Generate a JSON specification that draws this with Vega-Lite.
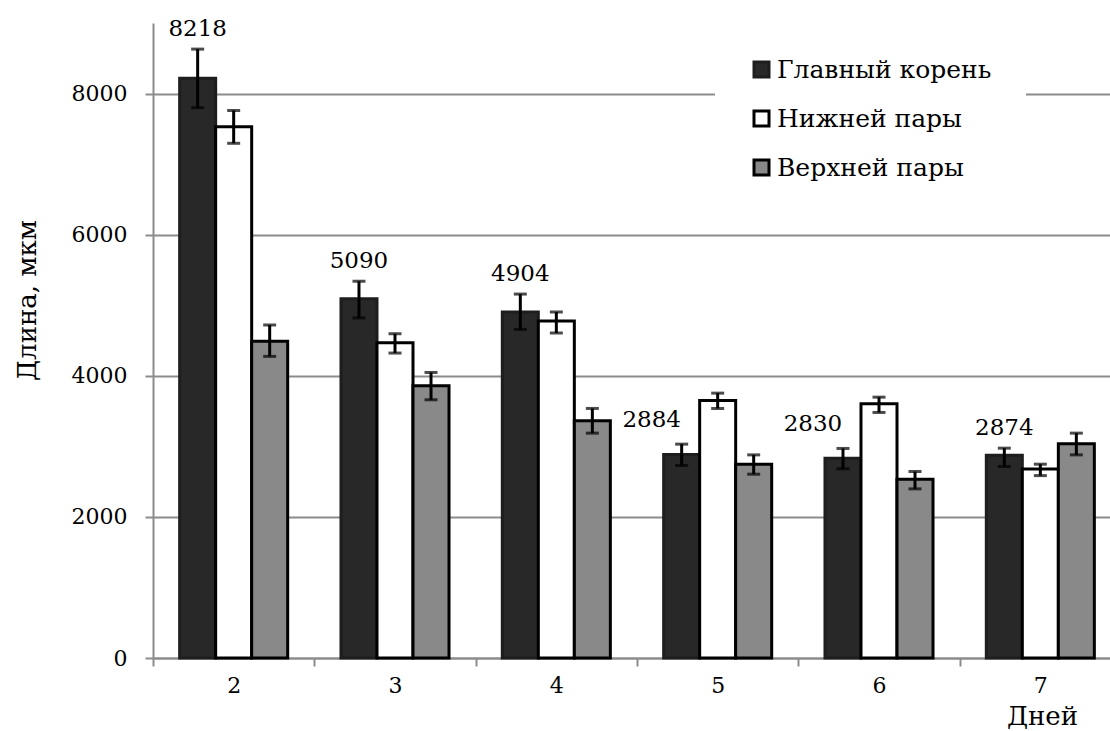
{
  "$schema": "https://vega.github.io/schema/vega-lite/v6.json",
  "width": 957,
  "height": 635,
  "autosize": {"type": "none"},
  "padding": {"left": 153, "top": 23, "right": 0, "bottom": 73},
  "background": "white",
  "config": {
    "view": {"stroke": null},
    "font": "DejaVu Serif",
    "axis": {"labelFont": "DejaVu Serif", "titleFont": "DejaVu Serif", "labelColor": "black", "titleColor": "black", "titleFontWeight": "normal"},
    "legend": {"labelFont": "DejaVu Serif", "labelColor": "black"}
  },
  "data": {
    "values": [
      {"day": "2", "series": "Главный корень", "value": 8218, "lo": 7800, "hi": 8630},
      {"day": "2", "series": "Нижней пары", "value": 7530, "lo": 7295, "hi": 7760},
      {"day": "2", "series": "Верхней пары", "value": 4490, "lo": 4275, "hi": 4720},
      {"day": "3", "series": "Главный корень", "value": 5090, "lo": 4820, "hi": 5340},
      {"day": "3", "series": "Нижней пары", "value": 4468, "lo": 4322, "hi": 4596},
      {"day": "3", "series": "Верхней пары", "value": 3858, "lo": 3660, "hi": 4047},
      {"day": "4", "series": "Главный корень", "value": 4904, "lo": 4657, "hi": 5158},
      {"day": "4", "series": "Нижней пары", "value": 4776, "lo": 4606, "hi": 4904},
      {"day": "4", "series": "Верхней пары", "value": 3362, "lo": 3187, "hi": 3537},
      {"day": "5", "series": "Главный корень", "value": 2884, "lo": 2728, "hi": 3031},
      {"day": "5", "series": "Нижней пары", "value": 3650, "lo": 3536, "hi": 3754},
      {"day": "5", "series": "Верхней пары", "value": 2747, "lo": 2605, "hi": 2879},
      {"day": "6", "series": "Главный корень", "value": 2830, "lo": 2681, "hi": 2970},
      {"day": "6", "series": "Нижней пары", "value": 3603, "lo": 3480, "hi": 3697},
      {"day": "6", "series": "Верхней пары", "value": 2534, "lo": 2397, "hi": 2643},
      {"day": "7", "series": "Главный корень", "value": 2874, "lo": 2714, "hi": 2974},
      {"day": "7", "series": "Нижней пары", "value": 2677, "lo": 2585, "hi": 2747},
      {"day": "7", "series": "Верхней пары", "value": 3035, "lo": 2879, "hi": 3187}
    ]
  },
  "encoding": {
    "x": {
      "field": "day", "type": "ordinal",
      "scale": {"paddingInner": 0, "paddingOuter": 0, "range": [0, 968]},
      "axis": {
        "title": "Дней", "titleFontSize": 26, "titleX": 889, "titleY": 66,
        "titleAlign": "center", "titleBaseline": "alphabetic", "titleAnchor": null,
        "labelAngle": 0, "labelFontSize": 22, "labelPadding": 9,
        "tickBand": "extent", "tickSize": 8, "tickColor": "#8c8c8c", "tickWidth": 2,
        "domainColor": "#8c8c8c", "domainWidth": 2, "grid": false
      }
    },
    "xOffset": {"field": "series", "type": "nominal", "sort": ["Главный корень", "Нижней пары", "Верхней пары"], "scale": {"domain": ["Главный корень", "Нижней пары", "Верхней пары"], "paddingInner": 0, "paddingOuter": 0.74}}
  },
  "layer": [
    {
      "mark": {"type": "bar", "strokeWidth": 3},
      "encoding": {
        "y": {
          "field": "value", "type": "quantitative",
          "scale": {"domain": [0, 9000], "nice": false},
          "axis": {
            "title": "Длина, мкм", "titleFontSize": 26, "titleX": -126, "titleY": 277,
            "titleAngle": -90, "titleAlign": "center", "titleBaseline": "middle", "titleAnchor": null,
            "values": [0, 2000, 4000, 6000, 8000], "format": "d", "labelFontSize": 22, "labelPadding": 18,
            "tickSize": 8, "tickColor": "#8c8c8c", "tickWidth": 2,
            "domainColor": "#8c8c8c", "domainWidth": 2,
            "grid": true, "gridColor": "#8c8c8c", "gridWidth": 2
          }
        },
        "fill": {
          "field": "series", "type": "nominal",
          "scale": {"domain": ["Главный корень", "Нижней пары", "Верхней пары"], "range": ["#282828", "#ffffff", "#898989"]},
          "legend": {
            "title": null, "orient": "none", "legendX": 562, "legendY": 0, "padding": 34,
            "fillColor": "white", "strokeColor": null, "symbolType": "square", "symbolSize": 225,
            "symbolStrokeWidth": 3, "labelFontSize": 25, "labelOffset": 3, "rowPadding": 22, "labelLimit": 400
          }
        },
        "stroke": {
          "field": "series", "type": "nominal",
          "scale": {"domain": ["Главный корень", "Нижней пары", "Верхней пары"], "range": ["#1e1e1e", "#000000", "#000000"]},
          "legend": {
            "title": null, "orient": "none", "legendX": 562, "legendY": 0, "padding": 34,
            "fillColor": "white", "strokeColor": null, "symbolType": "square", "symbolSize": 225,
            "symbolStrokeWidth": 3, "labelFontSize": 25, "labelOffset": 3, "rowPadding": 22, "labelLimit": 400
          }
        }
      }
    },
    {
      "mark": {"type": "rule", "color": "black", "strokeWidth": 3},
      "encoding": {
        "y": {"field": "lo", "type": "quantitative"},
        "y2": {"field": "hi"}
      }
    },
    {
      "mark": {"type": "tick", "color": "black", "thickness": 3, "size": 13, "orient": "horizontal"},
      "encoding": {"y": {"field": "lo", "type": "quantitative"}}
    },
    {
      "mark": {"type": "tick", "color": "black", "thickness": 3, "size": 13, "orient": "horizontal"},
      "encoding": {"y": {"field": "hi", "type": "quantitative"}}
    },
    {
      "transform": [{"filter": "datum.series === 'Главный корень' && datum.day !== '5' && datum.day !== '6'"}],
      "mark": {"type": "text", "font": "DejaVu Serif", "fontSize": 23, "baseline": "alphabetic", "align": "center", "dy": -13, "color": "black"},
      "encoding": {
        "y": {"field": "hi", "type": "quantitative"},
        "text": {"field": "value", "type": "quantitative", "format": "d"}
      }
    },
    {
      "transform": [{"filter": "datum.series === 'Главный корень' && (datum.day === '5' || datum.day === '6')"}],
      "mark": {"type": "text", "font": "DejaVu Serif", "fontSize": 23, "baseline": "alphabetic", "align": "center", "dy": -17, "dx": -30, "color": "black"},
      "encoding": {
        "y": {"field": "hi", "type": "quantitative"},
        "text": {"field": "value", "type": "quantitative", "format": "d"}
      }
    }
  ]
}
